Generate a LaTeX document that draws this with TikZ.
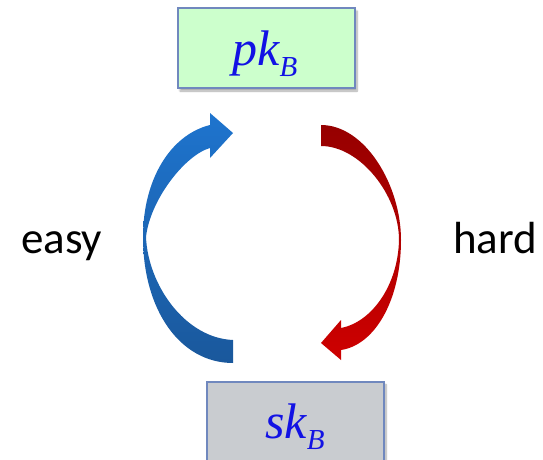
\documentclass[tikz,border=0pt]{standalone}
\usepackage{fontspec}
\setmainfont{Liberation Serif}
\newfontfamily\wordfont{Carlito}
\usetikzlibrary{shadows.blur}

\definecolor{keyblue}{RGB}{18,18,228}
\definecolor{boxedge}{RGB}{112,136,190}
\definecolor{pkfill}{RGB}{204,255,204}
\definecolor{skfill}{RGB}{201,204,208}
\definecolor{bluetop}{RGB}{30,116,206}
\definecolor{bluebot}{RGB}{26,88,156}
\definecolor{redtop}{RGB}{150,0,0}
\definecolor{redbot}{RGB}{206,0,0}

\tikzset{
  keybox/.style={draw=boxedge, line width=1.5pt, inner sep=0pt,
    blur shadow={shadow xshift=2pt, shadow yshift=-3pt, shadow blur steps=8, shadow opacity=35}},
  keylabel/.style={inner sep=0pt, anchor=base, text=keyblue,
    font=\fontsize{50}{50}\selectfont\itshape},
  word/.style={inner sep=0pt, anchor=base west, font=\wordfont\fontsize{45}{45}\selectfont}
}
\newcommand{\keysub}[1]{\raisebox{-0.22em}{\fontsize{29}{29}\selectfont #1}}

\begin{document}
\begin{tikzpicture}[x=1pt, y=-1pt]
  \useasboundingbox (0,0) rectangle (543,460);
  \begin{scope}
    \clip (0,0) rectangle (543,460);

    % public key box
    \node[keybox, fill=pkfill, minimum width=177pt, minimum height=80pt] (pk) at (266.5,48) {};
    \node[keylabel] (pklabel) at (265,66) {pk\keysub{B}};

    % secret key box, running off the lower edge
    \node[keybox, fill=skfill, minimum width=177pt, minimum height=120pt, anchor=north] (sk) at (295.5,381) {};
    \node[keylabel] (sklabel) at (295,438) {sk\keysub{B}};

    % easy direction: curved arrow up the left side
    \shade[top color=bluetop, bottom color=bluebot]
      (233,340) -- (233,363)
      .. controls (180,363) and (143,310) .. (143,237)
      .. controls (143,180) and (170,135) .. (210,125)
      -- (210,113) -- (233,133) -- (210,158) -- (210,148)
      .. controls (185,155) and (150,200) .. (146,237)
      .. controls (148,285) and (185,338) .. (233,340) -- cycle;

    % hard direction: curved arrow down the right side
    \shade[top color=redtop, bottom color=redbot]
      (321,125)
      .. controls (365,125) and (401,185) .. (401,240)
      .. controls (401,300) and (375,345) .. (341,350)
      -- (341,360) -- (321,343) -- (341,320) -- (341,328)
      .. controls (372,322) and (398,285) .. (399,240)
      .. controls (399,195) and (360,146) .. (321,146) -- cycle;

    \node[word] (easy) at (21,253) {easy};
    \node[word] (hard) at (453,253) {hard};
  \end{scope}
\end{tikzpicture}
\end{document}
